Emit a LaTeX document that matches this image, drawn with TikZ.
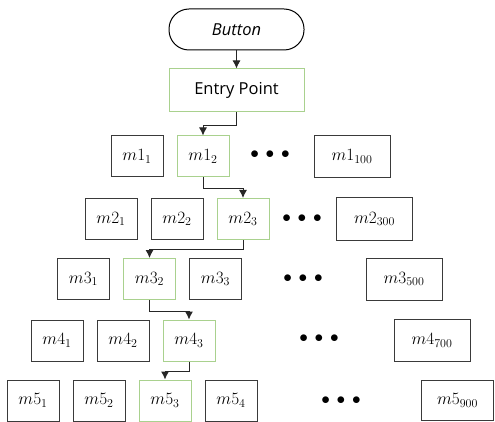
\documentclass[tikz,border=0pt]{standalone}
\usepackage{fontspec}
\setmainfont{Open Sans}
\usetikzlibrary{positioning, arrows.meta}
\definecolor{entrygreen}{HTML}{A9D18E}
\definecolor{boxgray}{HTML}{3A3A3A}

\begin{document}
\begin{tikzpicture}[x=1pt,y=1pt,node distance=66pt,on grid,
  every node/.style={font=\fontsize{16.5}{19}\selectfont},
  mbox/.style={draw=boxgray,line width=1pt,minimum width=52pt,minimum height=41pt,inner sep=0pt},
  wbox/.style={mbox,minimum width=76pt,minimum height=42pt},
  onpath/.style={mbox,draw=entrygreen},
  dots/.style={inner sep=0pt,font=\fontsize{18}{19}\selectfont},
  link/.style={-{Latex[length=8pt,width=8pt]},draw=black!85,line width=1pt}]
\useasboundingbox (0,0) rectangle (495,-422);

\node[draw=black,line width=1pt,rounded corners=20pt,minimum width=135pt,minimum height=41pt]
  (button) at (236.5,-29.5) {\itshape Button};
\node[draw=entrygreen,line width=1pt,minimum width=135pt,minimum height=43pt]
  (entry) at (236.5,-90.5) {Entry Point};

% level 1
\node[mbox] (m11) at (137,-156.5) {$m1_1$};
\node[onpath] (m12) [right=of m11] {$m1_2$};
\node[dots] (d1) at (270,-155) {$\bullet\,\bullet\,\bullet$};
\node[wbox] (m1n) at (352,-156.5) {$m1_{100}$};

% level 2
\node[mbox] (m21) at (111,-219) {$m2_1$};
\node[mbox] (m22) [right=of m21] {$m2_2$};
\node[onpath] (m23) [right=of m22] {$m2_3$};
\node[dots] (d2) at (302,-219) {$\bullet\,\bullet\,\bullet$};
\node[wbox] (m2n) at (374.5,-219) {$m2_{300}$};

% level 3
\node[mbox] (m31) at (83.5,-279) {$m3_1$};
\node[onpath] (m32) [right=of m31] {$m3_2$};
\node[mbox] (m33) [right=of m32] {$m3_3$};
\node[dots] (d3) at (303,-279) {$\bullet\,\bullet\,\bullet$};
\node[wbox] (m3n) at (404,-279) {$m3_{500}$};

% level 4
\node[mbox] (m41) at (57,-340.5) {$m4_1$};
\node[mbox] (m42) [right=of m41] {$m4_2$};
\node[onpath] (m43) [right=of m42] {$m4_3$};
\node[dots] (d4) at (319,-339) {$\bullet\,\bullet\,\bullet$};
\node[wbox] (m4n) at (432,-340.5) {$m4_{700}$};

% level 5
\node[mbox] (m51) at (33,-400.5) {$m5_1$};
\node[mbox] (m52) [right=of m51] {$m5_2$};
\node[onpath] (m53) [right=of m52] {$m5_3$};
\node[mbox] (m54) [right=of m53] {$m5_4$};
\node[dots] (d5) at (341,-401) {$\bullet\,\bullet\,\bullet$};
\node[wbox,minimum width=72pt,minimum height=40pt] (m5n) at (457.5,-400.5) {$m5_{900}$};

\draw[link] (button) -- (entry);
\draw[link] (entry.south) -- ++(0,-13) -| (m12.north);
\draw[link] (m12.south) -- ++(0,-11) -| (m23.north);
\draw[link] (m23.south) -- ++(0,-9) -| (m32.north);
\draw[link] (m32.south) -- ++(0,-11) -| (m43.north);
\draw[link] (m43.south) -- ++(0,-10) -| (m53.north);
\end{tikzpicture}
\end{document}
